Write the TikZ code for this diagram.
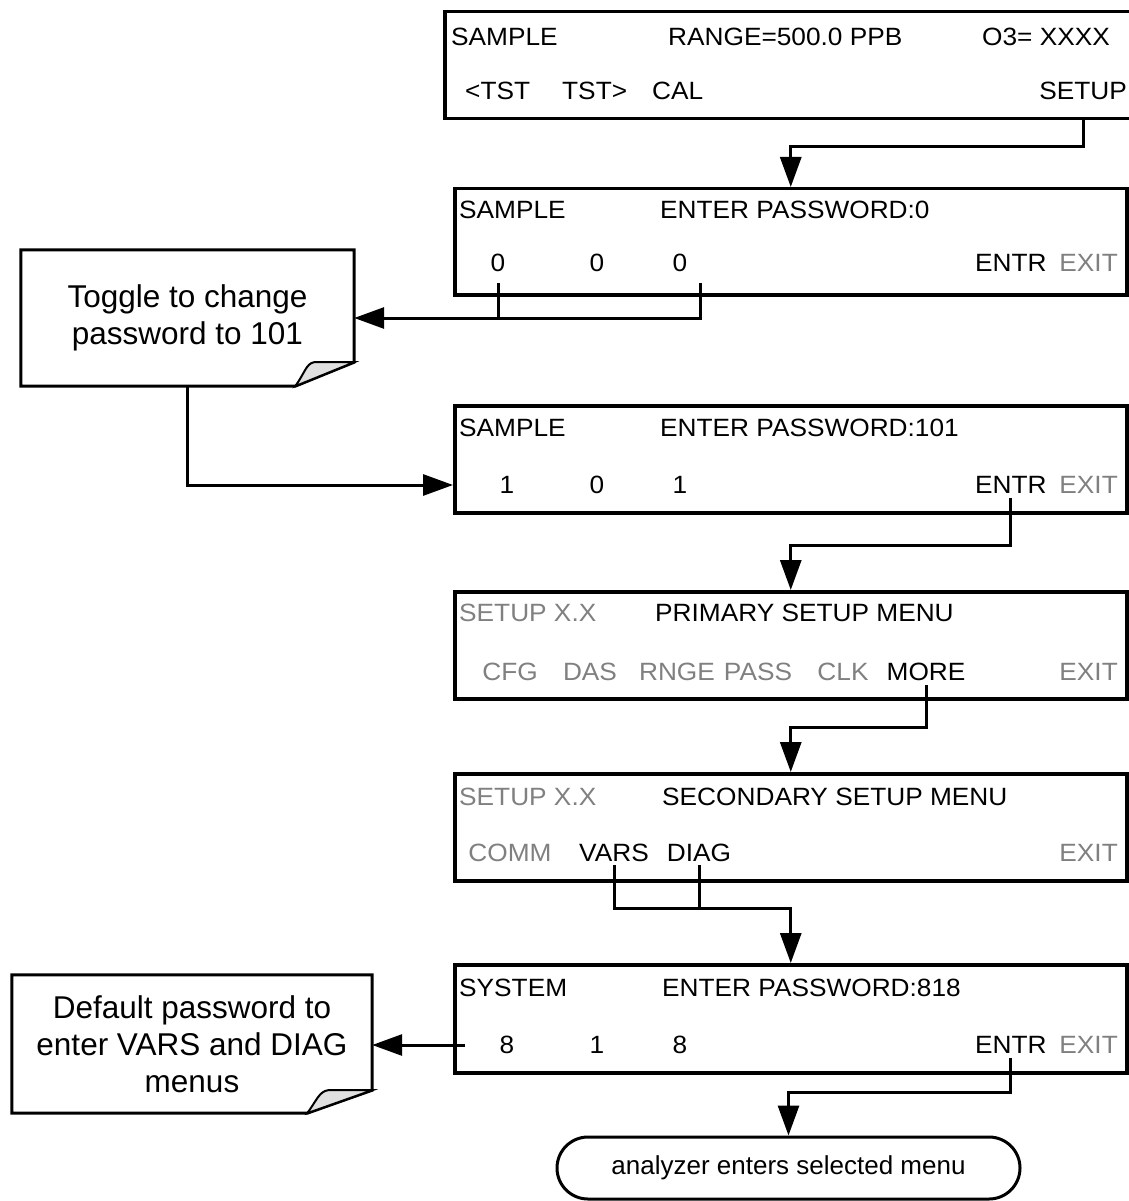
\documentclass[tikz,border=0pt]{standalone}
\usepackage{fontspec}
\setmainfont{Liberation Sans}
\newfontfamily\scrfont[FakeStretch=1.05]{Liberation Sans}
\usetikzlibrary{arrows.meta}
\definecolor{gr}{RGB}{128,128,128}
\definecolor{foldc}{RGB}{224,224,224}
\begin{document}
\begin{tikzpicture}[x=1pt,y=-1pt,
  scr/.style={font=\scrfont\fontsize{25}{29}\selectfont, inner sep=0pt},
  lt/.style={scr, anchor=west},
  ct/.style={scr, anchor=center},
  rt/.style={scr, anchor=east},
  dim/.style={text=gr},
  box/.style={draw, line width=3.5pt, anchor=north west, inner sep=0pt},
  con/.style={line width=3pt},
  arr/.style={con, -{Triangle[length=30pt,width=21pt]}},
  notebox/.style={inner sep=0pt, align=center, font=\fontsize{31.5}{37}\selectfont},
  notepath/.style={draw, line width=3pt, line join=miter},
  foldpath/.style={draw, line width=2pt, fill=foldc},
  term/.style={draw, line width=3pt, rounded corners=31pt, inner sep=0pt, font=\fontsize{26}{30}\selectfont},
]
\useasboundingbox (0,0) rectangle (1128,1201);

% ---------- screen boxes ----------
\node[box, minimum width=700pt, minimum height=107pt] (b1) at (443,10) {};
\node[box, minimum width=672pt, minimum height=106pt] (b2) at (453,187) {};
\node[box, minimum width=672pt, minimum height=107pt] (b3) at (453,404) {};
\node[box, minimum width=672pt, minimum height=107pt] (b4) at (453,590) {};
\node[box, minimum width=672pt, minimum height=107pt] (b5) at (453,772) {};
\node[box, minimum width=672pt, minimum height=108pt] (b6) at (453,963) {};

% box 1
\node[lt] (t11) at (451,37) {SAMPLE};
\node[lt] (t12) at (668,37) {RANGE=500.0 PPB};
\node[rt] (t13) at (1110,37) {O3= XXXX};
\node[lt] (t14) at (465,91) {<TST};
\node[lt] (t15) at (562,91) {TST>};
\node[lt] (t16) at (652,91) {CAL};
\node[rt] (setup1) at (1127,91) {SETUP};

% box 2
\node[lt] (t21) at (459,210) {SAMPLE};
\node[lt] (t22) at (660,210) {ENTER PASSWORD:0};
\node[ct] (z1) at (498,263) {0};
\node[ct] (z2) at (597,263) {0};
\node[ct] (z3) at (680,263) {0};
\node[lt] (e2) at (975,263) {ENTR};
\node[rt,dim] (x2) at (1118,263) {EXIT};

% box 3
\node[lt] (t31) at (459,428) {SAMPLE};
\node[lt] (t32) at (660,428) {ENTER PASSWORD:101};
\node[ct] (o31) at (507,485) {1};
\node[ct] (o32) at (597,485) {0};
\node[ct] (o33) at (680,485) {1};
\node[lt] (e3) at (975,485) {ENTR};
\node[rt,dim] (x3) at (1118,485) {EXIT};

% box 4
\node[lt,dim] (t41) at (459,613) {SETUP X.X};
\node[lt] (t42) at (655,613) {PRIMARY SETUP MENU};
\node[ct,dim] (cfg) at (510,672) {CFG};
\node[ct,dim] (das) at (590,672) {DAS};
\node[ct,dim] (rnge) at (677,672) {RNGE};
\node[ct,dim] (pass) at (758,672) {PASS};
\node[ct,dim] (clk) at (843,672) {CLK};
\node[ct] (more) at (926,672) {MORE};
\node[rt,dim] (x4) at (1118,672) {EXIT};

% box 5
\node[lt,dim] (t51) at (459,797) {SETUP X.X};
\node[lt] (t52) at (662,797) {SECONDARY SETUP MENU};
\node[ct,dim] (comm) at (510,853) {COMM};
\node[ct] (vars) at (614,853) {VARS};
\node[ct] (diag) at (699,853) {DIAG};
\node[rt,dim] (x5) at (1118,853) {EXIT};

% box 6
\node[lt] (t61) at (459,988) {SYSTEM};
\node[lt] (t62) at (662,988) {ENTER PASSWORD:818};
\node[ct] (e61) at (507,1045) {8};
\node[ct] (e62) at (597,1045) {1};
\node[ct] (e63) at (680,1045) {8};
\node[lt] (e6) at (975,1045) {ENTR};
\node[rt,dim] (x6) at (1118,1045) {EXIT};

% ---------- notes ----------
\node[notebox, minimum width=333pt, minimum height=136pt] (n1) at (187.5,318) {Toggle to change\\password to 101};
\draw[notepath] (n1.north west) -- (n1.north east) -- ([yshift=24pt]n1.south east)
  -- ([xshift=-59pt]n1.south east) -- (n1.south west) -- cycle;
\draw[foldpath] ([xshift=-59pt]n1.south east)
  .. controls ([xshift=-50pt,yshift=12pt]n1.south east) and ([xshift=-48pt,yshift=23pt]n1.south east)
  .. ([xshift=-40pt,yshift=24pt]n1.south east) -- ([yshift=24pt]n1.south east) -- cycle;

\node[notebox, minimum width=360pt, minimum height=138pt] (n2) at (192,1044) {Default password to\\enter VARS and DIAG\\menus};
\draw[notepath] (n2.north west) -- (n2.north east) -- ([yshift=23pt]n2.south east)
  -- ([xshift=-65pt]n2.south east) -- (n2.south west) -- cycle;
\draw[foldpath] ([xshift=-65pt]n2.south east)
  .. controls ([xshift=-56pt,yshift=12pt]n2.south east) and ([xshift=-53pt,yshift=22pt]n2.south east)
  .. ([xshift=-44pt,yshift=23pt]n2.south east) -- ([yshift=23pt]n2.south east) -- cycle;

% ---------- terminator ----------
\node[term, minimum width=463pt, minimum height=62pt] (term) at (788.5,1168) {analyzer enters selected menu};

% ---------- connectors ----------
\draw[arr] (b1.south -| setup1) -- ++(0,26) -| (b2.north);

\coordinate (za) at ([yshift=-11pt]z1.south);
\coordinate (zb) at ([xshift=20pt,yshift=-11pt]z3.south);
\draw[con] (za) -- (za |- n1.east);
\draw[arr] (zb) -- (zb |- n1.east) -- (n1.east);

\draw[arr] (n1.south) |- (b3.west |- o31);

\draw[arr] ([yshift=-4pt]e3.south) -- (e3.south |- 0,545) -| (b4.north);
\draw[arr] ([yshift=-4pt]more.south) -- (more.south |- 0,727) -| (b5.north);

\draw[arr] ([yshift=-3pt]vars.south) -- (vars.south |- 0,908) -| (b6.north);
\draw[con] ([yshift=-3pt]diag.south) -- (diag.south |- 0,908);

\coordinate (s6) at ([xshift=12pt]b6.west |- e61);
\draw[arr] (s6) -- (n2.east |- s6);

\draw[arr] ([yshift=-4pt]e6.south) -- (e6.south |- 0,1092) -| (term.north);
\end{tikzpicture}
\end{document}
